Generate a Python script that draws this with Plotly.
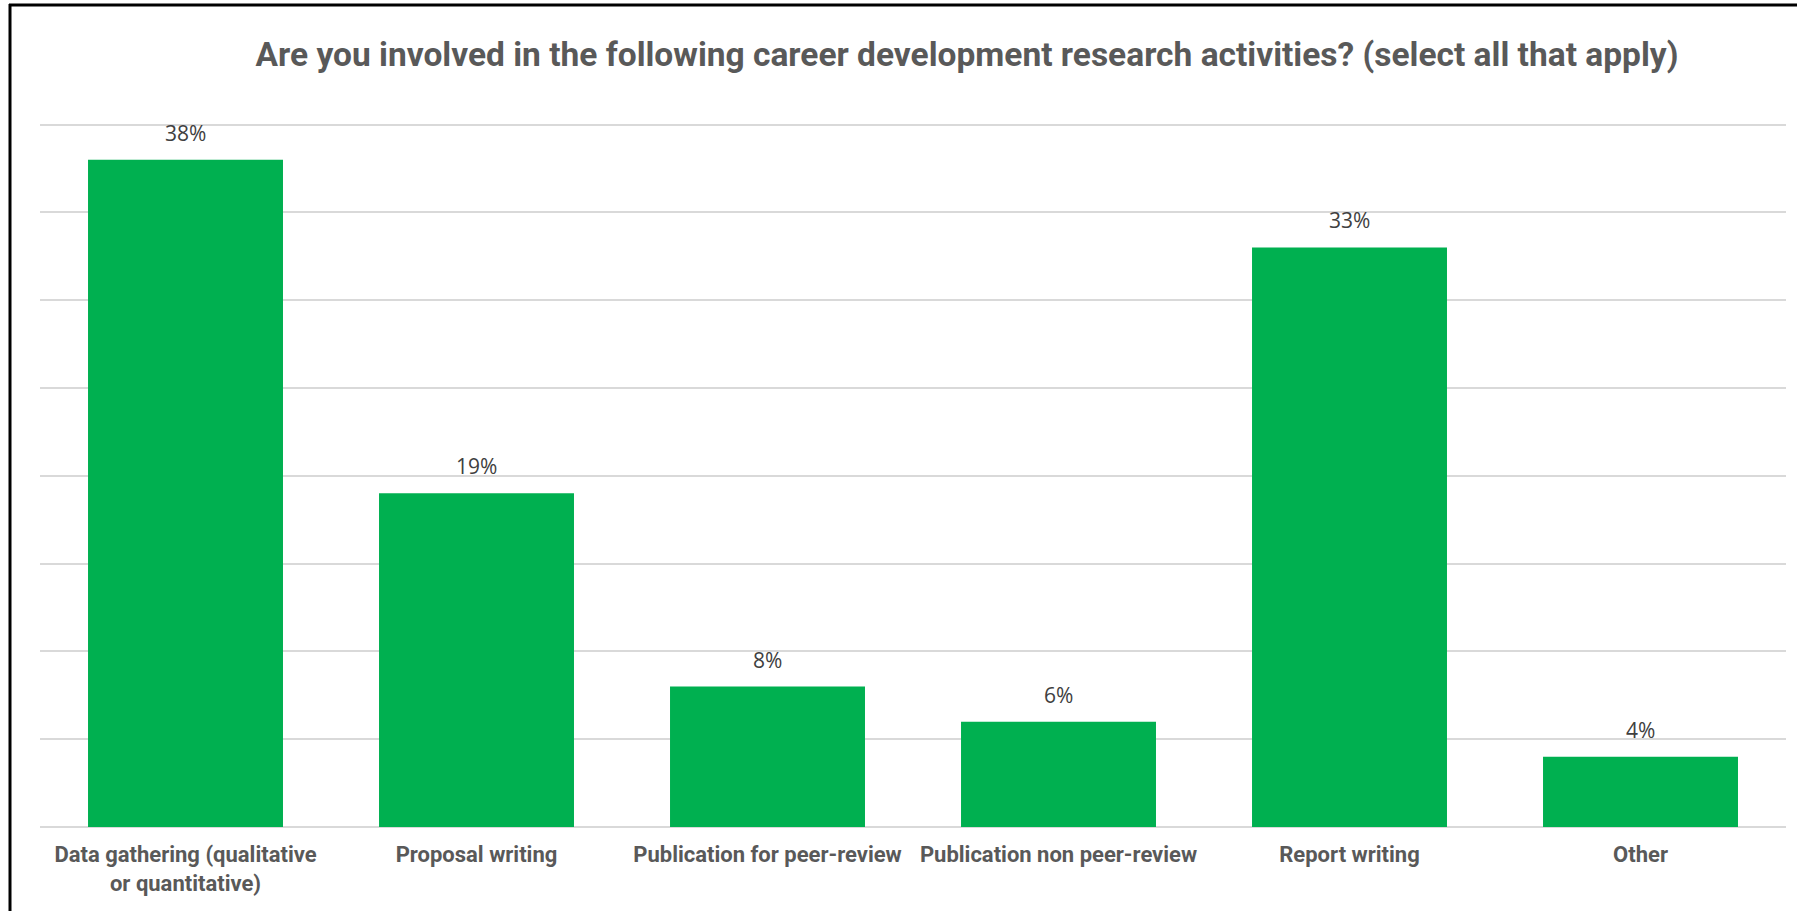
import plotly.graph_objects as go

# Survey responses: share of respondents involved in each activity (%)
categories = [
    "Data gathering (qualitative<br>or quantitative)",
    "Proposal writing",
    "Publication for peer-review",
    "Publication non peer-review",
    "Report writing",
    "Other",
]
values = [38, 19, 8, 6, 33, 4]
value_labels = ["38%", "19%", "8%", "6%", "33%", "4%"]
y_ticks = [0, 5, 10, 15, 20, 25, 30, 35, 40]

title_text = ("Are you involved in the following career development research "
              "activities? (select all that apply)")

W, H = 1797, 911
ML, MR, MT, MB = 40, 11, 121, 84

FONT = "Roboto, Arial, sans-serif"
GREEN = "#00B050"
GRAY_TXT = "#595959"
GRID = "#D9D9D9"

fig = go.Figure(
    go.Bar(
        x=categories,
        y=values,
        marker=dict(color=GREEN, line=dict(width=0)),
        width=0.67,
        hoverinfo="skip",
    )
)

# value labels above each bar
for cat, v, lab in zip(categories, values, value_labels):
    fig.add_annotation(
        x=cat, y=v, text=lab, showarrow=False,
        yanchor="middle", yshift=27,
        font=dict(family="Open Sans, sans-serif", size=21, color="#404040"),
    )

# frame lines on the top and left edges of the chart area
pw = W - ML - MR
ph = H - MT - MB
def px_x(px):
    return (px - ML) / pw
def px_y(py):
    return (H - MB - py) / ph

fig.add_shape(type="line", xref="paper", yref="paper",
              x0=px_x(9), x1=px_x(W + 5), y0=px_y(5), y1=px_y(5),
              line=dict(color="black", width=3), layer="above")
fig.add_shape(type="line", xref="paper", yref="paper",
              x0=px_x(10), x1=px_x(10), y0=px_y(4), y1=px_y(H + 5),
              line=dict(color="black", width=3), layer="above")

fig.update_layout(
    width=W, height=H,
    margin=dict(l=ML, r=MR, t=MT, b=MB, pad=0),
    paper_bgcolor="white",
    plot_bgcolor="white",
    showlegend=False,
    title=dict(
        text="<b>" + title_text + "</b>",
        x=967 / W, xref="container", xanchor="center",
        y=1 - 54 / H, yref="container", yanchor="middle",
        font=dict(family=FONT, size=33.5, color=GRAY_TXT),
    ),
    bargap=0.33,
    xaxis=dict(
        showline=False, showgrid=False, ticks="",
        tickfont=dict(family=FONT, size=22, color=GRAY_TXT, weight="bold"),
        ticklabelstandoff=12,
    ),
    yaxis=dict(
        range=[0, 40.2], tickvals=y_ticks, showticklabels=False,
        showgrid=True, gridcolor=GRID, gridwidth=2,
        zeroline=True, zerolinecolor=GRID, zerolinewidth=2,
        showline=False, ticks="", fixedrange=True,
    ),
)

fig.write_html("out.html")
